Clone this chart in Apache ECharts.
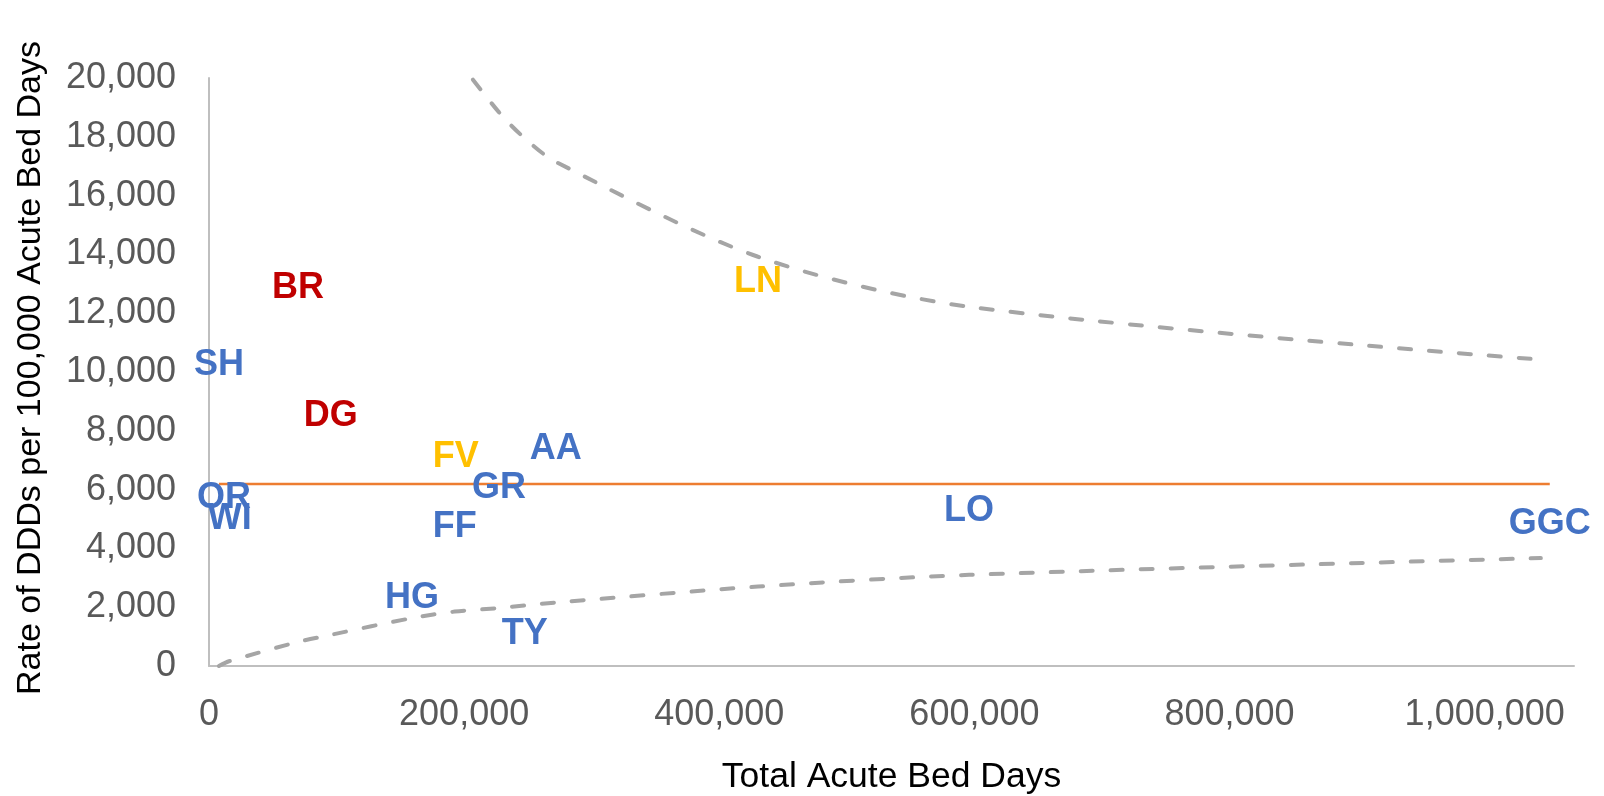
<!DOCTYPE html>
<html>
<head>
<meta charset="utf-8">
<script src="https://cdn.jsdelivr.net/npm/echarts@6/dist/echarts.min.js"></script>
<style>
html,body{margin:0;padding:0;background:#fff;}
#chart{width:1604px;height:796px;}
</style>
</head>
<body>
<div id="chart"></div>
<script>
// Boards (labels), total acute bed days (x) and rate of DDDs per 100,000 acute bed days (y)
const boards   = ['AA', 'BR', 'DG', 'FF', 'FV', 'GGC', 'GR', 'HG', 'LN', 'LO', 'OR', 'SH', 'TY', 'WI'];
const bedDays  = [271800, 69800, 95400, 192600, 193400, 1051000, 227400, 159200, 430400, 595800, 11800, 7800, 247500, 16200];
const rates    = [7370, 12850, 8510, 4740, 7100, 4830, 6040, 2300, 13070, 5280, 5700, 10240, 1090, 4990];
const groups   = ['blue', 'red', 'red', 'blue', 'gold', 'blue', 'blue', 'blue', 'gold', 'blue', 'blue', 'blue', 'blue', 'blue'];

// Mean rate
const meanRate = 6190;

// Control limits
const upperBedDays = [192600, 227400, 247500, 271800, 430400, 595800, 1044000];
const upperLimit   = [20750, 18830, 17950, 17150, 13920, 12220, 10420];
const lowerBedDays = [7800, 11800, 16200, 69800, 95400, 159200, 192600, 227400, 247500, 271800, 430400, 595800, 1044000];
const lowerLimit   = [0, 90, 170, 820, 1060, 1630, 1850, 1970, 2060, 2160, 2700, 3100, 3670];

// Axis ticks
const xTicks = [0, 200000, 400000, 600000, 800000, 1000000];
const yTicks = [0, 2000, 4000, 6000, 8000, 10000, 12000, 14000, 16000, 18000, 20000];

const palette = { blue: '#4472C4', red: '#C00000', gold: '#FFC000' };
const FONT = "'Liberation Sans', Arial, sans-serif";
const fmt = v => Math.round(v).toLocaleString('en-US');

const chart = echarts.init(document.getElementById('chart'), null, { renderer: 'canvas' });

const xMin = Math.min.apply(null, bedDays);
const xMax = Math.max.apply(null, bedDays);

const limitStyle = { color: '#A5A5A5', width: 4, type: [12, 18], cap: 'round' };

chart.setOption({
  animation: false,
  backgroundColor: '#ffffff',
  grid: { left: 209, top: 78, right: 30, bottom: 130, outerBoundsMode: 'none', containLabel: false },
  xAxis: {
    type: 'value',
    min: xTicks[0],
    max: 1070000,
    interval: xTicks[1] - xTicks[0],
    name: 'Total Acute Bed Days',
    nameLocation: 'middle',
    nameGap: 93,
    nameTextStyle: { color: '#000000', fontSize: 35.5, fontFamily: FONT },
    axisLine: { show: true, lineStyle: { color: '#BFBFBF', width: 2 } },
    axisTick: { show: false },
    splitLine: { show: false },
    axisLabel: {
      color: '#595959', fontSize: 36, fontFamily: FONT, margin: 31,
      showMaxLabel: false,
      formatter: v => xTicks.indexOf(v) >= 0 ? fmt(v) : ''
    }
  },
  yAxis: {
    type: 'value',
    min: yTicks[0],
    max: yTicks[yTicks.length - 1],
    interval: yTicks[1] - yTicks[0],
    name: 'Rate of DDDs per 100,000 Acute Bed Days',
    nameLocation: 'middle',
    nameGap: 161,
    nameTextStyle: { color: '#000000', fontSize: 34, fontFamily: FONT, padding: [0, 0, 0, 8] },
    axisLine: { show: true, lineStyle: { color: '#BFBFBF', width: 2 } },
    axisTick: { show: false },
    splitLine: { show: false },
    axisLabel: {
      color: '#595959', fontSize: 36, fontFamily: FONT, margin: 33,
      formatter: v => fmt(v)
    }
  },
  series: [
    {
      name: 'Upper limit',
      type: 'line',
      data: upperBedDays.map((x, i) => [x, upperLimit[i]]),
      smooth: 0.3,
      showSymbol: false,
      clip: true,
      lineStyle: limitStyle,
      z: 2
    },
    {
      name: 'Lower limit',
      type: 'line',
      data: lowerBedDays.map((x, i) => [x, lowerLimit[i]]),
      smooth: 0.3,
      showSymbol: false,
      clip: true,
      lineStyle: limitStyle,
      z: 2
    },
    {
      name: 'Mean',
      type: 'line',
      data: [[xMin, meanRate], [xMax, meanRate]],
      showSymbol: false,
      lineStyle: { color: '#ED7D31', width: 2.5 },
      z: 3
    },
    {
      name: 'Boards',
      type: 'scatter',
      symbol: 'circle',
      symbolSize: 1,
      itemStyle: { color: 'rgba(0,0,0,0)', opacity: 1 },
      z: 5,
      clip: false,
      data: boards.map((b, i) => ({
        value: [bedDays[i], rates[i]],
        name: b,
        label: { color: palette[groups[i]] }
      })),
      label: {
        show: true,
        position: 'inside',
        padding: [7, 0, 0, 0],
        formatter: p => p.name,
        fontSize: 36,
        fontWeight: 'bold',
        fontFamily: FONT,
        textBorderWidth: 0
      },
      labelLayout: { hideOverlap: false }
    }
  ]
});
</script>
</body>
</html>
